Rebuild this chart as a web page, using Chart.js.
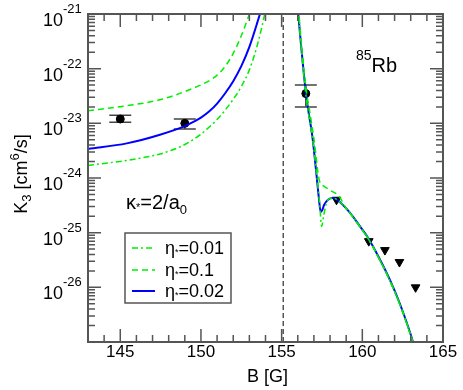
<!DOCTYPE html>
<html>
<head>
<meta charset="utf-8">
<script src="https://cdn.jsdelivr.net/npm/chart.js@4.4.1/dist/chart.umd.min.js"></script>
<style>
  body { margin: 0; background: #fff; }
  #wrap { width: 463px; height: 390px; }
</style>
</head>
<body>
<div id="wrap"><canvas id="k3Chart" width="463" height="390"></canvas></div>
<script>
// --- values ---
const etaLabels = ['0.01', '0.1', '0.02'];

// eta* = 0.01 (green dash-dot)
const bEta001Left = [143, 145.4, 147.46, 148.5, 149, 149.5, 150, 150.5, 151, 151.5, 152, 152.5, 153, 153.5, 153.95, 154.2];
const kEta001Left = [1.7e-24, 2.1e-24, 2.75e-24, 3.5e-24, 4.1e-24, 5.0e-24, 6.3e-24, 8.5e-24, 1.17e-23, 1.74e-23, 2.75e-23, 4.7e-23, 9.5e-23, 2.75e-22, 1e-21, 2.5e-21];
const bEta001Right = [155.95, 156.05, 156.5, 156.93, 157.15, 157.35, 157.48, 157.6, 157.75, 157.87, 158.2, 158.62, 159.24, 159.86, 160.37, 161.1, 161.72, 162.34, 163.14, 163.4];
const kEta001Right = [3e-21, 1e-21, 3.4e-23, 4.8e-24, 1.3e-24, 3.5e-25, 1.3e-25, 2.0e-25, 3.3e-25, 4.0e-25, 4.3e-25, 3.6e-25, 2.3e-25, 1.28e-25, 7.8e-26, 3.1e-26, 1.3e-26, 4.8e-27, 9.7e-28, 4.9e-28];

// eta* = 0.1 (green dashed)
const bEta01Left = [143, 145.4, 147.46, 149.53, 150.5, 151, 151.5, 152, 152.5, 153, 153.3];
const kEta01Left = [1.7e-23, 2.1e-23, 2.7e-23, 4.4e-23, 6.0e-23, 7.6e-23, 1.1e-22, 1.9e-22, 4.0e-22, 1e-21, 1.8e-21];
const bEta01Right = [156.0, 156.08, 156.51, 156.76, 157.01, 157.33, 157.62, 157.99, 158.57, 158.93, 159.24, 159.86, 160.37, 161.1, 161.72, 162.34, 163.14, 163.4];
const kEta01Right = [3e-21, 1e-21, 4.5e-23, 1.5e-23, 5e-24, 9.2e-25, 7.1e-25, 6.0e-25, 4.6e-25, 3.0e-25, 2.25e-25, 1.27e-25, 7.7e-26, 3.1e-26, 1.3e-26, 4.7e-27, 9.5e-28, 4.8e-28];

// eta* = 0.02 (blue solid)
const bEta002Left = [143, 145.4, 147.46, 149, 149.5, 150, 150.5, 151, 151.5, 152, 152.5, 153, 153.5, 153.7, 153.9];
const kEta002Left = [3.4e-24, 4.3e-24, 6.2e-24, 8.9e-24, 1.05e-23, 1.27e-23, 1.64e-23, 2.3e-23, 3.55e-23, 5.9e-23, 1.11e-22, 2.5e-22, 7.1e-22, 1.12e-21, 2e-21];
const bEta002Right = [155.9, 156.03, 156.51, 156.93, 157.13, 157.30, 157.42, 157.52, 157.63, 157.87, 158.2, 158.62, 159.24, 159.86, 160.37, 161.1, 161.72, 162.34, 163.14, 163.4];
const kEta002Right = [3e-21, 1e-21, 3.5e-23, 5e-24, 1.4e-24, 4.5e-25, 2.4e-25, 2.6e-25, 3.2e-25, 4.0e-25, 4.3e-25, 3.6e-25, 2.3e-25, 1.3e-25, 7.9e-26, 3.2e-26, 1.35e-26, 4.9e-27, 1e-27, 5e-28];

// measured points with error bars
const expB = [145, 149, 156.5];
const expK = [1.2e-23, 1.0e-23, 3.5e-23];
const expLow = [1.05e-23, 7.9e-24, 2.0e-23];
const expHigh = [1.4e-23, 1.2e-23, 5.0e-23];

// upper limits (triangles)
const limB = [158.4, 160.4, 161.4, 162.3, 163.3];
const limK = [4.0e-25, 7e-26, 4.8e-26, 2.9e-26, 1.0e-26];

// Feshbach resonance position
const resB = [155.1, 155.1];
const resK = [1e-27, 1e-21];

// axes
const xTicks = [145, 150, 155, 160, 165];
const yDecades = [-26, -25, -24, -23, -22, -21];
const xMin = 143, xMax = 165, yMin = 1e-27, yMax = 1e-21;

const FONT = '"Liberation Sans", Arial, Helvetica, sans-serif';
const GREEN = '#00ee00';
const BLUE = '#0000ff';
const FRAME = '#555555';

function pts(bs, ks) {
    return bs.map((b, i) => ({ x: b, y: ks[i] }));
}

function curve(bs, ks, color, width, dash) {
    return {
        data: pts(bs, ks),
        borderColor: color,
        borderWidth: width,
        borderDash: dash,
        pointRadius: 0,
        fill: false,
        showLine: true,
        cubicInterpolationMode: 'monotone'
    };
}

// draws a row of text pieces (for super/subscripts)
function runs(ctx, x, y, parts) {
    for (const p of parts) {
        ctx.font = p.size + 'px ' + FONT;
        ctx.fillText(p.t, x, y + (p.dy || 0));
        x += ctx.measureText(p.t).width;
    }
    return x;
}

function runsWidth(ctx, parts) {
    let w = 0;
    for (const p of parts) {
        ctx.font = p.size + 'px ' + FONT;
        w += ctx.measureText(p.t).width;
    }
    return w;
}

const errorBars = {
    id: 'errorBars',
    beforeDatasetsDraw(chart) {
        const { ctx, scales: { x, y } } = chart;
        ctx.save();
        ctx.strokeStyle = '#444';
        ctx.lineWidth = 1.5;
        expB.forEach((b, i) => {
            const px = x.getPixelForValue(b);
            const lo = y.getPixelForValue(expLow[i]);
            const hi = y.getPixelForValue(expHigh[i]);
            ctx.beginPath();
            ctx.moveTo(px, lo); ctx.lineTo(px, hi);
            ctx.moveTo(px - 11, lo); ctx.lineTo(px + 11, lo);
            ctx.moveTo(px - 11, hi); ctx.lineTo(px + 11, hi);
            ctx.stroke();
        });
        ctx.restore();
    }
};

const frameAndText = {
    id: 'frameAndText',
    afterDraw(chart) {
        const { ctx, chartArea: a, scales: { x, y } } = chart;
        ctx.save();

        // ticks (inward, all four sides)
        ctx.strokeStyle = FRAME;
        ctx.lineWidth = 1.5;
        ctx.beginPath();
        for (let b = xMin; b <= xMax; b++) {
            const px = x.getPixelForValue(b);
            const len = b % 5 === 0 ? 13 : 7;
            ctx.moveTo(px, a.bottom); ctx.lineTo(px, a.bottom - len);
            ctx.moveTo(px, a.top); ctx.lineTo(px, a.top + len);
        }
        for (let d = -27; d <= -21; d++) {
            const py = y.getPixelForValue(Math.pow(10, d));
            ctx.moveTo(a.left, py); ctx.lineTo(a.left + 13, py);
            ctx.moveTo(a.right, py); ctx.lineTo(a.right - 13, py);
            if (d === -21) continue;
            for (let m = 2; m <= 9; m++) {
                const pm = y.getPixelForValue(m * Math.pow(10, d));
                ctx.moveTo(a.left, pm); ctx.lineTo(a.left + 7, pm);
                ctx.moveTo(a.right, pm); ctx.lineTo(a.right - 7, pm);
            }
        }
        ctx.stroke();

        // frame
        ctx.lineWidth = 2;
        ctx.strokeRect(a.left, a.top, a.right - a.left, a.bottom - a.top);

        ctx.fillStyle = '#000';
        ctx.textBaseline = 'alphabetic';

        // x tick labels
        ctx.font = '17px ' + FONT;
        ctx.textAlign = 'center';
        xTicks.forEach(t => ctx.fillText(String(t), x.getPixelForValue(t), 357));
        ctx.font = '18px ' + FONT;
        ctx.fillText('B [G]', (a.left + a.right) / 2 + 2, 382);

        // y tick labels 10^n
        yDecades.forEach(d => {
            const py = y.getPixelForValue(Math.pow(10, d));
            ctx.font = '18px ' + FONT;
            ctx.textAlign = 'right';
            ctx.fillText('10', 63, py + 12);
            ctx.font = '13px ' + FONT;
            ctx.textAlign = 'left';
            ctx.fillText(String(d), 63, py - 1);
        });

        // y title K3 [cm6/s]
        ctx.textAlign = 'left';
        const yTitle = [
            { t: 'K', size: 18 },
            { t: '3', size: 13, dy: 4 },
            { t: ' [cm', size: 18 },
            { t: '6', size: 13, dy: -8 },
            { t: '/s]', size: 18 }
        ];
        ctx.save();
        ctx.translate(27, 174);
        ctx.rotate(-Math.PI / 2);
        runs(ctx, -runsWidth(ctx, yTitle) / 2, 0, yTitle);
        ctx.restore();

        // 85Rb
        runs(ctx, 356, 72, [{ t: '85', size: 14, dy: -12 }, { t: 'Rb', size: 20 }]);

        // kappa* = 2/a0
        runs(ctx, 126, 209, [
            { t: 'κ', size: 20 },
            { t: '*', size: 11, dy: 2 },
            { t: '=2/a', size: 20 },
            { t: '0', size: 13, dy: 5 }
        ]);

        // legend
        ctx.fillStyle = '#fff';
        ctx.fillRect(125, 233, 106, 70);
        ctx.strokeStyle = FRAME;
        ctx.lineWidth = 1.5;
        ctx.strokeRect(125, 233, 106, 70);
        const legendStyles = [
            { color: GREEN, width: 1.5, dash: [6, 3, 2, 3] },
            { color: GREEN, width: 1.5, dash: [6, 4] },
            { color: BLUE, width: 2, dash: [] }
        ];
        const rowY = [248, 270, 291];
        etaLabels.forEach((lab, i) => {
            const s = legendStyles[i];
            ctx.strokeStyle = s.color;
            ctx.lineWidth = s.width;
            ctx.setLineDash(s.dash);
            ctx.beginPath();
            ctx.moveTo(132, rowY[i]); ctx.lineTo(155, rowY[i]);
            ctx.stroke();
            ctx.setLineDash([]);
            ctx.fillStyle = '#000';
            runs(ctx, 165, rowY[i] + 6, [
                { t: 'η', size: 18 },
                { t: '*', size: 9, dy: 1 },
                { t: '=' + lab, size: 18 }
            ]);
        });

        ctx.restore();
    }
};

new Chart(document.getElementById('k3Chart'), {
    type: 'line',
    data: {
        datasets: [
            Object.assign(curve(resB, resK, FRAME, 1.5, [5, 3]), { cubicInterpolationMode: 'default' }),
            curve(bEta001Left, kEta001Left, GREEN, 1.5, [6, 3, 2, 3]),
            curve(bEta001Right, kEta001Right, GREEN, 1.5, [6, 3, 2, 3]),
            curve(bEta01Left, kEta01Left, GREEN, 1.5, [6, 4]),
            curve(bEta01Right, kEta01Right, GREEN, 1.5, [6, 4]),
            curve(bEta002Left, kEta002Left, BLUE, 2, []),
            curve(bEta002Right, kEta002Right, BLUE, 2, []),
            {
                data: pts(limB, limK),
                showLine: false,
                pointStyle: 'triangle',
                rotation: 180,
                pointRadius: 5,
                backgroundColor: '#000',
                borderColor: '#000'
            },
            {
                data: pts(expB, expK),
                showLine: false,
                pointStyle: 'circle',
                pointRadius: 4,
                backgroundColor: '#000',
                borderColor: '#000'
            }
        ]
    },
    options: {
        responsive: false,
        animation: false,
        devicePixelRatio: 1,
        layout: { padding: { top: 14, right: 20, left: 0, bottom: 0 } },
        plugins: { legend: { display: false }, tooltip: { enabled: false } },
        scales: {
            x: {
                type: 'linear', min: xMin, max: xMax,
                grid: { display: false }, border: { display: false },
                ticks: { display: false },
                afterFit: s => { s.height = 48; }
            },
            y: {
                type: 'logarithmic', min: yMin, max: yMax,
                grid: { display: false }, border: { display: false },
                ticks: { display: false },
                afterFit: s => { s.width = 88; }
            }
        }
    },
    plugins: [errorBars, frameAndText]
});
</script>
</body>
</html>
